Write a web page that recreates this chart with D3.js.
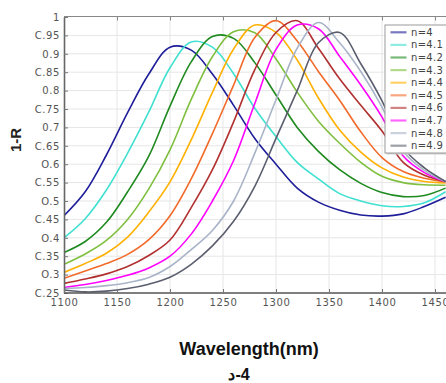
<!DOCTYPE html>
<html>
<head>
<meta charset="utf-8">
<script src="https://cdn.jsdelivr.net/npm/d3@7"></script>
<style>
  body { margin: 0; background: #fff; overflow: hidden; }
</style>
</head>
<body>
<svg id="chart" width="446" height="383"></svg>
<script>
// wavelength samples (nm)
const wavelengths = [1100, 1120, 1140, 1160, 1180, 1200, 1220, 1240, 1260, 1280,
                     1300, 1320, 1340, 1360, 1380, 1400, 1420, 1440, 1460];

const seriesNames = ["n=4", "n=4.1", "n=4.2", "n=4.3", "n=4.4",
                     "n=4.5", "n=4.6", "n=4.7", "n=4.8", "n=4.9"];

// 1-R values
const n40 = [0.46, 0.525, 0.625, 0.74, 0.845, 0.918, 0.91, 0.845, 0.76, 0.67, 0.6, 0.535, 0.497, 0.475, 0.462, 0.459, 0.465, 0.485, 0.51];
const n41 = [0.40, 0.452, 0.53, 0.63, 0.742, 0.862, 0.932, 0.918, 0.846, 0.752, 0.675, 0.605, 0.56, 0.52, 0.5, 0.487, 0.485, 0.495, 0.525];
const n42 = [0.36, 0.39, 0.442, 0.525, 0.622, 0.758, 0.878, 0.947, 0.942, 0.876, 0.788, 0.7, 0.635, 0.585, 0.548, 0.523, 0.512, 0.515, 0.535];
const n43 = [0.328, 0.356, 0.393, 0.45, 0.533, 0.639, 0.776, 0.892, 0.96, 0.957, 0.886, 0.796, 0.717, 0.657, 0.605, 0.567, 0.55, 0.544, 0.543];
const n44 = [0.306, 0.33, 0.358, 0.402, 0.47, 0.552, 0.666, 0.795, 0.913, 0.978, 0.958, 0.883, 0.78, 0.693, 0.633, 0.59, 0.565, 0.553, 0.549];
const n45 = [0.29, 0.31, 0.33, 0.355, 0.395, 0.46, 0.56, 0.683, 0.815, 0.944, 0.99, 0.935, 0.852, 0.774, 0.688, 0.618, 0.58, 0.562, 0.552];
const n46 = [0.276, 0.288, 0.302, 0.322, 0.352, 0.394, 0.482, 0.585, 0.715, 0.857, 0.958, 0.99, 0.915, 0.832, 0.76, 0.69, 0.605, 0.57, 0.553];
const n47 = [0.265, 0.273, 0.284, 0.298, 0.318, 0.35, 0.41, 0.5, 0.61, 0.765, 0.912, 0.978, 0.968, 0.893, 0.815, 0.728, 0.622, 0.577, 0.552];
const n48 = [0.262, 0.265, 0.27, 0.278, 0.292, 0.322, 0.368, 0.42, 0.5, 0.63, 0.775, 0.915, 0.985, 0.93, 0.852, 0.755, 0.635, 0.583, 0.552];
const n49 = [0.258, 0.253, 0.255, 0.262, 0.274, 0.293, 0.328, 0.378, 0.445, 0.54, 0.67, 0.8, 0.93, 0.958, 0.873, 0.772, 0.645, 0.59, 0.553];

const seriesValues = [n40, n41, n42, n43, n44, n45, n46, n47, n48, n49];
const seriesColors = ["#1e1e9a", "#40e0d0", "#1f8a1f", "#7fbf3f", "#ffb000",
                      "#f26a2a", "#b23030", "#ff00ff", "#a9b4c8", "#5a5e6e"];

const xTicks = [1100, 1150, 1200, 1250, 1300, 1350, 1400, 1450];
const yTicks = [0.25, 0.3, 0.35, 0.4, 0.45, 0.5, 0.55, 0.6, 0.65, 0.7, 0.75, 0.8, 0.85, 0.9, 0.95, 1];
const yTickLabels = ["C.25", "O.3", "C.35", "O.4", "C.45", "O.5", "C.55", "O.6", "C.65",
                     "0.7", "C.75", "0.8", "C.85", "0.9", "C.95", "1"];

const svg = d3.select("#chart");

const x = d3.scaleLinear().domain([1100, 1460]).range([64, 445.6]);
const y = d3.scaleLinear().domain([0.25, 1]).range([293, 17]);
const right = 470;

// grid
const grid = svg.append("g").attr("class", "grid");
grid.selectAll("line.v")
  .data(xTicks.slice(1))
  .enter().append("line")
  .attr("x1", d => x(d)).attr("x2", d => x(d))
  .attr("y1", y(1)).attr("y2", y(0.25))
  .attr("stroke", "#e6e6e6");
grid.selectAll("line.h")
  .data(yTicks.slice(1, -1))
  .enter().append("line")
  .attr("x1", x(1100)).attr("x2", right)
  .attr("y1", d => y(d)).attr("y2", d => y(d))
  .attr("stroke", "#e6e6e6");

// curves
svg.append("clipPath").attr("id", "plot-clip")
  .append("rect")
  .attr("x", x(1100)).attr("y", y(1))
  .attr("width", right - x(1100)).attr("height", y(0.25) - y(1));

const line = d3.line()
  .x((d, i) => x(wavelengths[i]))
  .y(d => y(d))
  .curve(d3.curveCatmullRom);

svg.append("g")
  .attr("clip-path", "url(#plot-clip)")
  .selectAll("path")
  .data(seriesValues)
  .enter().append("path")
  .attr("d", d => line(d))
  .attr("fill", "none")
  .attr("stroke", (d, i) => seriesColors[i])
  .attr("stroke-width", 1.6)
  .attr("stroke-linejoin", "round");

// axes
const tickFont = g => g.selectAll("text")
  .style("font-family", "DejaVu Sans, sans-serif")
  .style("font-size", "10px")
  .style("letter-spacing", "0.6px")
  .attr("fill", "#555");

svg.append("g")
  .attr("transform", "translate(" + x(1100) + ",0)")
  .call(d3.axisLeft(y).tickValues(yTicks)
    .tickFormat((d, i) => yTickLabels[i])
    .tickSizeInner(-4).tickSizeOuter(0).tickPadding(4))
  .call(tickFont)
  .call(g => g.select(".domain").attr("stroke", "#666").attr("stroke-width", 1.6))
  .call(g => g.selectAll(".tick line").attr("stroke", "#777"));

svg.append("g")
  .attr("transform", "translate(0," + y(0.25) + ")")
  .call(d3.axisBottom(x).tickValues(xTicks)
    .tickFormat(d3.format("d"))
    .tickSizeInner(-4).tickSizeOuter(0).tickPadding(6))
  .call(tickFont)
  .call(g => g.select(".domain").attr("stroke", "#555").attr("stroke-width", 1.6).attr("d", "M" + x(1100) + ",0H" + right))
  .call(g => g.selectAll(".tick line").attr("stroke", "#777"));

svg.append("g")
  .attr("transform", "translate(0," + (y(1) - 0.5) + ")")
  .call(d3.axisTop(x).tickValues(xTicks.slice(1))
    .tickSizeInner(-4).tickSizeOuter(0).tickFormat(""))
  .call(g => g.select(".domain").attr("stroke", "#888").attr("stroke-width", 1.2).attr("d", "M" + x(1100) + ",0H" + right))
  .call(g => g.selectAll(".tick line").attr("stroke", "#888"));

// legend
const legend = svg.append("g").attr("transform", "translate(385,25)");
legend.append("rect")
  .attr("x", 1.5).attr("y", 1.5).attr("width", 90).attr("height", 128)
  .attr("fill", "#cfcfcf");
legend.append("rect")
  .attr("width", 90).attr("height", 128)
  .attr("fill", "#fff").attr("stroke", "#999").attr("stroke-width", 1);

const items = legend.selectAll("g.item")
  .data(seriesNames)
  .enter().append("g")
  .attr("transform", (d, i) => "translate(0," + (7.3 + i * 12.6) + ")");
items.append("line")
  .attr("x1", 5.5).attr("x2", 21.5)
  .attr("stroke", (d, i) => seriesColors[i])
  .attr("stroke-width", 2.2)
  .attr("stroke-opacity", 0.6);
items.append("text")
  .attr("x", 26).attr("dy", "0.35em")
  .style("font-family", "DejaVu Sans, sans-serif")
  .style("font-size", "10px")
  .style("letter-spacing", "0.3px")
  .attr("fill", "#444")
  .text(d => d);

// titles
svg.append("text")
  .attr("transform", "translate(21,140) rotate(-90)")
  .attr("text-anchor", "middle")
  .style("font-family", "Liberation Sans, Arial, sans-serif")
  .style("font-weight", "bold")
  .style("font-size", "15px")
  .attr("fill", "#222")
  .text("1-R");

svg.append("text")
  .attr("x", 249).attr("y", 355)
  .attr("text-anchor", "middle")
  .style("font-family", "Liberation Sans, Arial, sans-serif")
  .style("font-weight", "bold")
  .style("font-size", "18px")
  .attr("fill", "#111")
  .text("Wavelength(nm)");

svg.append("text")
  .attr("x", 239).attr("y", 380)
  .attr("text-anchor", "middle")
  .style("font-family", "Liberation Sans, Arial, sans-serif")
  .style("font-weight", "bold")
  .style("font-size", "16px")
  .style("direction", "ltr")
  .style("unicode-bidi", "bidi-override")
  .attr("fill", "#111")
  .text("د-4");
</script>
</body>
</html>
